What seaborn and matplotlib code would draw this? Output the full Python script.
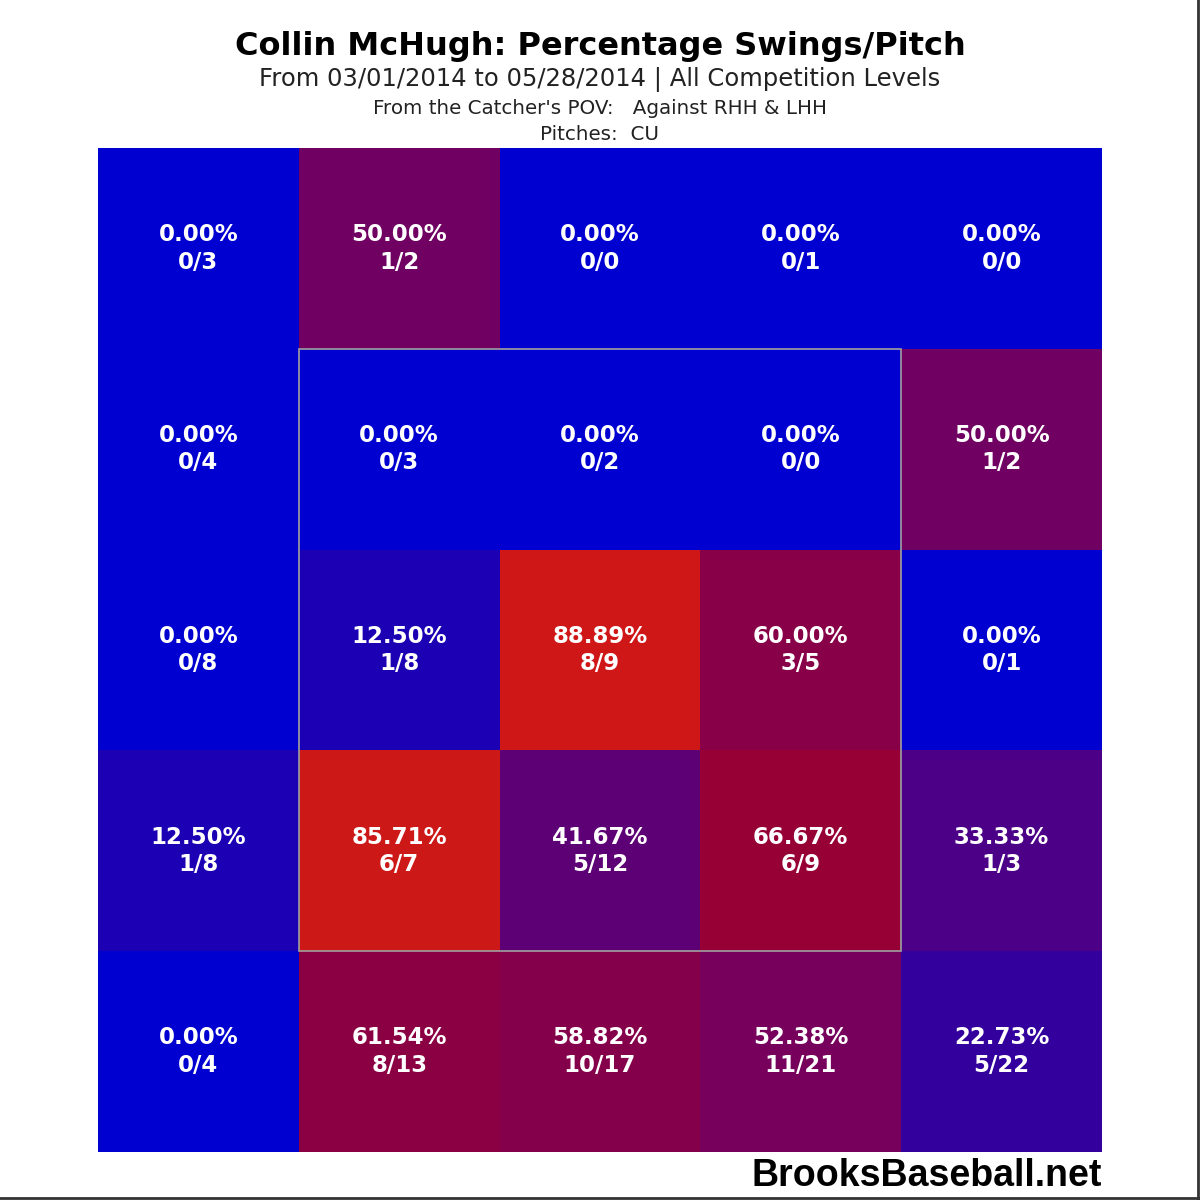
import matplotlib
matplotlib.use('Agg')
import matplotlib.pyplot as plt
import seaborn as sns
import numpy as np
from matplotlib.colors import LinearSegmentedColormap
from matplotlib.patches import Rectangle
from matplotlib.lines import Line2D

# dados: swings / pitches por zona (visão do catcher, linha 0 = topo)
swings = [
    [0, 1, 0, 0, 0],
    [0, 0, 0, 0, 1],
    [0, 1, 8, 3, 0],
    [1, 6, 5, 6, 1],
    [0, 8, 10, 11, 5],
]
pitches = [
    [3, 2, 0, 1, 0],
    [4, 3, 2, 0, 2],
    [8, 8, 9, 5, 1],
    [8, 7, 12, 9, 3],
    [4, 13, 17, 21, 22],
]

titulo = 'Collin McHugh: Percentage Swings/Pitch'
subtitulo = 'From 03/01/2014 to 05/28/2014 | All Competition Levels'
linha3 = "From the Catcher's POV:   Against RHH & LHH"
linha4 = 'Pitches:  CU'
rodape = 'BrooksBaseball.net'

sw = np.array(swings, dtype=float)
pt = np.array(pitches, dtype=float)
pct = np.divide(sw * 100, pt, out=np.zeros_like(sw), where=pt > 0)
rotulos = np.array([[f'{pct[i, j]:.2f}%\n{swings[i][j]}/{pitches[i][j]}'
                     for j in range(5)] for i in range(5)])

cmap = LinearSegmentedColormap.from_list('brooks', [
    (0.00, '#0000d0'),
    (0.50, '#700062'),
    (0.67, '#980034'),
    (0.85, '#cc1818'),
    (1.00, '#d81414'),
])

plt.rcParams['font.family'] = ['DejaVu Sans']
fig = plt.figure(figsize=(12, 12), dpi=100)
ax = fig.add_axes([98 / 1200, 48 / 1200, 1004 / 1200, 1004 / 1200])

sns.heatmap(pct, cmap=cmap, vmin=0, vmax=100, annot=rotulos, fmt='',
            cbar=False, ax=ax, linewidths=0,
            annot_kws={'color': 'white', 'fontweight': 'bold', 'fontsize': 16.5,
                       'linespacing': 1.25})
ax.set_xticks([])
ax.set_yticks([])

# zona de strike
ax.add_patch(Rectangle((1, 1), 3, 3, fill=False, edgecolor='#a0a0a0', lw=1.2))

fig.text(0.5, 1 - 46 / 1200, titulo, ha='center', va='center',
         fontsize=23, fontweight='bold')
fig.text(0.5, 1 - 79 / 1200, subtitulo, ha='center', va='center',
         fontsize=17.5, color='#222222')
fig.text(0.5, 1 - 108 / 1200, linha3, ha='center', va='center',
         fontsize=14.3, color='#222222')
fig.text(0.5, 1 - 134 / 1200, linha4, ha='center', va='center',
         fontsize=14.3, color='#222222')
fig.text(1102 / 1200, 1 - 1176 / 1200, rodape, ha='right', va='center',
         fontsize=27, fontweight='bold', family='Liberation Sans')

# moldura direita/inferior
fig.add_artist(Line2D([0, 1], [0.002, 0.002], color='#333333', lw=2))
fig.add_artist(Line2D([0.998, 0.998], [0, 1], color='#333333', lw=2))

plt.savefig('out.png', dpi=100, facecolor='white')
